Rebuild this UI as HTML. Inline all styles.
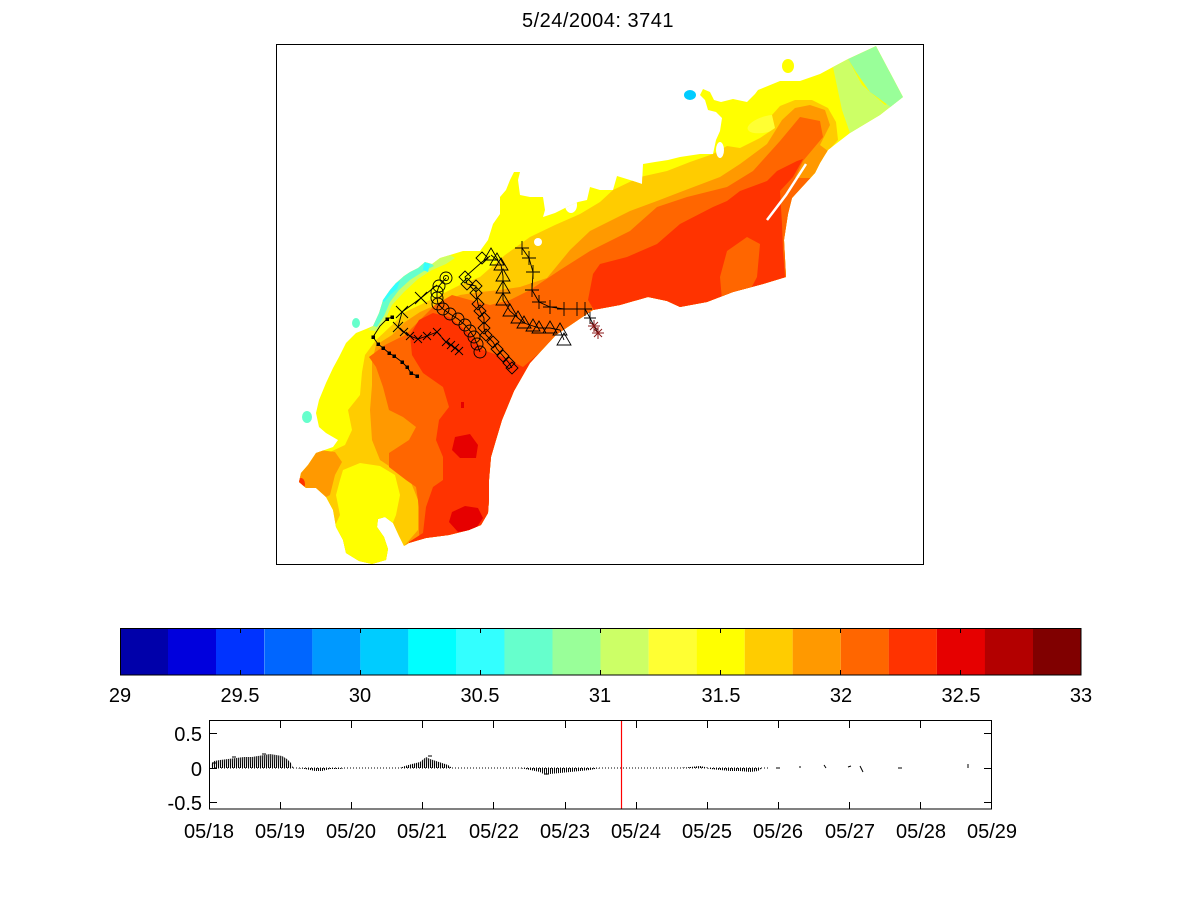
<!DOCTYPE html>
<html>
<head>
<meta charset="utf-8">
<style>
  html,body{margin:0;padding:0;background:#fff;}
  svg{display:block;}
  text{font-family:"Liberation Sans",Arial,sans-serif;fill:#000;}
</style>
</head>
<body>
<svg width="1201" height="900" viewBox="0 0 1201 900" xmlns="http://www.w3.org/2000/svg">
<rect x="0" y="0" width="1201" height="900" fill="#fff"/>
<defs>
  <clipPath id="dom">
    <polygon points="876,46 903,97 880,115 850,133 828,150 820,163 815,173 803,186 792,198 788,214 784,240 786,277 763,284 733,292 707,302 680,307 667,301 648,297 620,305 593,310 581,318 556,335 530,363 514,391 502,420 496,440 491,457 489,480 489,500 488,513 481,525 469,530 449,535 426,538 409,543 404,546 399,536 393,523 385,517 378,519 377,527 384,537 388,549 386,560 372,564 359,561 346,553 343,540 336,527 333,510 326,497 316,488 306,488 299,482 301,473 308,465 316,453 333,447 338,440 326,433 319,427 316,413 319,400 326,383 333,368 339,357 346,343 356,333 366,329 373,326 379,313 383,300 390,290 396,283 404,276 410,272 418,268 425,262 432,264 440,258 450,255 463,251 480,251 488,240 493,224 500,214 500,197 506,190 510,180 514,172 520,172 518,180 520,195 530,197 543,197 545,210 543,217 555,213 567,207 578,202 587,200 590,187 600,190 613,190 617,176 630,180 642,184 643,164 655,162 668,160 680,157 700,154 713,154 716,140 720,131 722,118 716,112 708,110 705,100 700,95 703,89 710,92 714,100 721,102 733,99 747,102 755,94 758,90 780,81 800,81 820,74 833,67 848,59"/>
  </clipPath>
  <pattern id="hatch" patternUnits="userSpaceOnUse" width="2" height="60">
    <line x1="0.2" y1="60" x2="1.6" y2="0" stroke="#000" stroke-width="1.1"/>
  </pattern>
</defs>

<!-- Title -->
<text x="598" y="27" font-size="20" text-anchor="middle" letter-spacing="0.5">5/24/2004: 3741</text>

<!-- Map -->
<g clip-path="url(#dom)">
  <rect x="270" y="40" width="660" height="530" fill="#ffff00"/>
  <!-- NE corner light greens -->
  <polygon points="833,67 848,59 862,85 885,105 903,97 905,140 850,133 842,110" fill="#ccff66"/>
  <polygon points="848,59 876,46 903,97 892,108 870,92 856,72" fill="#99ff99"/>
  <ellipse cx="767" cy="124" rx="20" ry="8" transform="rotate(-15 767 124)" fill="#ffff33"/>
  <!-- ffcc00 -->
  <polygon points="280,600 280,450 330,452 345,445 352,430 348,410 360,395 362,372 365,355 376,340 392,325 405,312 420,305 440,295 460,285 480,277 505,255 530,237 555,225 580,214 600,202 613,190 640,177 667,171 690,162 713,154 727,146 740,148 760,138 775,128 772,115 780,106 795,100 812,100 828,108 836,122 838,140 822,158 840,170 900,170 900,420 700,600" fill="#ffcc00"/>
  <!-- yellow overlays -->
  <polygon points="343,470 360,463 380,466 395,475 400,495 396,515 392,525 392,570 330,570 333,530 340,515 336,495 340,480" fill="#ffff00"/>
  <polygon points="808,160 822,163 812,180 800,192 795,182" fill="#ffff00"/>
  <!-- NW fringe -->
  <polygon points="368,330 373,326 379,313 383,300 390,290 396,283 404,276 410,272 418,268 425,262 432,264 440,258 450,255 455,258 446,264 432,270 418,279 404,292 392,305 386,318 376,331" fill="#ccff66"/>
  <polygon points="373,326 379,313 383,300 390,290 396,283 404,276 410,272 418,268 425,262 432,264 434,266 424,271 410,280 399,290 390,302 384,316 377,327" fill="#66ffcc"/>
  <polygon points="381,300 386,291 394,284 400,281 397,289 390,295 384,302" fill="#33ffff"/>
  <polygon points="424,262 430,264 428,272 423,270" fill="#33ffff"/>
  <!-- ff9900 -->
  <polygon points="296,470 305,455 320,450 335,452 342,462 335,475 330,495 320,500 300,495" fill="#ff9900"/>
  <polygon points="376,345 392,335 405,322 420,312 440,303 460,295 480,292 500,290 520,287 547,278 570,250 590,231 630,211 657,201 683,191 720,177 740,164 767,144 782,120 795,108 810,105 825,110 830,125 820,145 840,160 905,160 905,420 420,600 405,560 405,545 418,530 418,500 410,480 395,470 380,460 372,440 370,410 372,385 372,362" fill="#ff9900"/>
  <!-- ff6600 -->
  <polygon points="369,357 385,345 405,335 420,320 435,305 452,295 470,300 490,305 510,300 530,290 560,270 590,251 630,231 657,207 687,197 727,187 753,171 780,141 800,117 820,121 823,137 803,161 795,178 905,178 905,420 430,600 419,533 419,507 416,487 406,480 389,467 389,453 409,440 416,427 403,417 389,410 383,387 376,367" fill="#ff6600"/>
  <!-- ff3300 -->
  <polygon points="593,274 600,264 627,257 657,244 680,224 713,207 727,201 740,191 767,181 777,171 797,161 803,159 793,177 780,191 782,224 783,251 785,277 800,300 760,320 600,320 588,300" fill="#ff3300"/>
  <polygon points="720,277 727,251 747,237 760,244 757,277 745,300 722,300" fill="#ff6600"/>
  <polygon points="419,320 433,313 449,317 469,333 483,350 503,357 523,367 543,350 556,337 600,340 560,580 409,580 409,542 423,533 426,507 433,487 443,480 443,457 436,440 439,420 449,407 443,387 423,373 412,355 410,335" fill="#ff3300"/>
  <!-- e60000 -->
  <polygon points="455,437 470,434 478,445 476,458 460,458 452,450" fill="#e60000"/>
  <polygon points="452,512 465,506 478,508 483,518 475,530 458,532 449,522" fill="#e60000"/>
  <rect x="461" y="402" width="3" height="6" fill="#e60000"/>
  <ellipse cx="301" cy="484" rx="4" ry="6" fill="#ff3300"/>
  <!-- white holes & slit -->
  <ellipse cx="571" cy="205" rx="6" ry="8" fill="#fff"/>
  <ellipse cx="538" cy="242" rx="4" ry="4" fill="#fff"/>
  <ellipse cx="720" cy="150" rx="4" ry="8" fill="#fff"/>
  <polyline points="806,164 786,195 767,220" fill="none" stroke="#fff" stroke-width="2.5"/>
</g>
<!-- small detached blobs -->
<ellipse cx="690" cy="95" rx="6" ry="5" fill="#00ccff"/>
<ellipse cx="788" cy="66" rx="6" ry="7" fill="#ffff00"/>
<ellipse cx="356" cy="323" rx="4" ry="5" fill="#66ffcc"/>
<ellipse cx="307" cy="417" rx="5" ry="6" fill="#66ffcc"/>

<!-- Tracks -->
<g fill="none" stroke="#000" stroke-width="0.9">
  <!-- dots track -->
  <polyline points="392,317 387,319 380,326 373,337 378,344 383,348 389,353 394,356 402,362 407,367 411,373 417,376"/>
  <g fill="#000" stroke="none">
    <rect x="390.5" y="315.5" width="3.5" height="3.5"/><rect x="385.5" y="317.5" width="3.5" height="3.5"/>
    <rect x="371.5" y="335.5" width="3.5" height="3.5"/><rect x="376.5" y="342.5" width="3.5" height="3.5"/>
    <rect x="381.5" y="346.5" width="3.5" height="3.5"/><rect x="387.5" y="351.5" width="3.5" height="3.5"/>
    <rect x="392.5" y="354.5" width="3.5" height="3.5"/><rect x="400.5" y="360.5" width="3.5" height="3.5"/>
    <rect x="405.5" y="365.5" width="3.5" height="3.5"/><rect x="409.5" y="371.5" width="3.5" height="3.5"/>
    <rect x="415.5" y="374.5" width="3.5" height="3.5"/>
  </g>
  <!-- x track -->
  <polyline points="437,285 421,298 402,312 398,327 404,332 410,336 418,339 427,336 437,332 446,342 451,345 455,348 459,351"/>
  <path d="M415,292l12,12M415,304l12,-12 M396,306l12,12M396,318l12,-12 M393,322l10,10M393,332l10,-10 M400,328l8,8M400,336l8,-8 M406,332l8,8M406,340l8,-8 M414,335l8,8M414,343l8,-8 M423,332l8,8M423,340l8,-8 M433,328l8,8M433,336l8,-8 M442,338l8,8M442,346l8,-8 M447,341l8,8M447,349l8,-8 M451,344l8,8M451,352l8,-8 M455,347l8,8M455,355l8,-8"/>
  <!-- circles track -->
  <polyline points="446,278 439,286 437,292 437,298 438,304 443,309 450,314 458,319 465,325 470,331 474,337 477,344 480,352"/>
  <circle cx="446" cy="278" r="6"/><circle cx="446" cy="278" r="2.5"/>
  <circle cx="439" cy="286" r="6"/><circle cx="437" cy="292" r="6"/><circle cx="437" cy="298" r="6"/>
  <circle cx="438" cy="304" r="6"/><circle cx="443" cy="309" r="6"/><circle cx="450" cy="314" r="6"/>
  <circle cx="458" cy="319" r="6"/><circle cx="465" cy="325" r="6"/><circle cx="470" cy="331" r="6"/>
  <circle cx="474" cy="337" r="6"/><circle cx="477" cy="344" r="6"/><circle cx="480" cy="352" r="6"/>
  <!-- diamonds track -->
  <polyline points="490,256 482,262 465,277 467,284 476,286 476,293 478,304 480,311 484,318 484,328 486,335 493,342 497,349 503,356 509,363 512,368"/>
  <path d="M482,252l6,6l-6,6l-6,-6z M465,271l6,6l-6,6l-6,-6z M467,278l6,6l-6,6l-6,-6z M476,280l6,6l-6,6l-6,-6z M476,287l6,6l-6,6l-6,-6z M478,298l6,6l-6,6l-6,-6z M480,305l6,6l-6,6l-6,-6z M484,312l6,6l-6,6l-6,-6z M484,322l6,6l-6,6l-6,-6z M486,329l6,6l-6,6l-6,-6z M493,336l6,6l-6,6l-6,-6z M497,343l6,6l-6,6l-6,-6z M503,350l6,6l-6,6l-6,-6z M509,357l6,6l-6,6l-6,-6z M512,362l6,6l-6,6l-6,-6z"/>
  <!-- triangles track -->
  <polyline points="491,255 497,260 501,265 503,276 503,288 503,300 510,311 518,318 524,323 533,326 539,328 550,328 560,330 564,340"/>
  <path d="M491,248l7,12h-14z M497,253l7,12h-14z M501,258l7,12h-14z M503,269l7,12h-14z M503,281l7,12h-14z M503,293l7,12h-14z M510,304l7,12h-14z M518,311l7,12h-14z M524,316l7,12h-14z M533,319l7,12h-14z M539,321l7,12h-14z M550,321l7,12h-14z M560,323l7,12h-14z M564,333l7,12h-14z"/>
  <!-- plus track -->
  <polyline points="522,248 529,258 533,272 532,290 539,302 550,307 564,309 577,309 585,309 590,318 594,326 598,333"/>
  <path d="M515,248h14M522,241v14 M522,258h14M529,251v14 M526,272h14M533,265v14 M525,290h14M532,283v14 M532,302h14M539,295v14 M543,307h14M550,300v14 M557,309h14M564,302v14 M570,309h14M577,302v14 M578,309h14M585,302v14 M584,318h12M590,312v12"/>
</g>
<g fill="none" stroke="#8b1a1a" stroke-width="1">
  <path d="M588,326h12M594,320v12M590,322l8,8M590,330l8,-8 M592,333h12M598,327v12M594,329l8,8M594,337l8,-8"/>
</g>

<!-- Map box -->
<rect x="276.5" y="44.5" width="647" height="520" fill="none" stroke="#000" stroke-width="1"/>

<!-- Colorbar -->
<g>
  <rect x="120" y="628" width="48.1" height="47" fill="#0000aa"/>
  <rect x="168" y="628" width="48.1" height="47" fill="#0000dd"/>
  <rect x="216" y="628" width="48.1" height="47" fill="#0033ff"/>
  <rect x="264.3" y="628" width="48.1" height="47" fill="#0066ff"/>
  <rect x="312.3" y="628" width="48.1" height="47" fill="#0099ff"/>
  <rect x="360.3" y="628" width="48.1" height="47" fill="#00ccff"/>
  <rect x="408.3" y="628" width="48.1" height="47" fill="#00ffff"/>
  <rect x="456.4" y="628" width="48.1" height="47" fill="#33ffff"/>
  <rect x="504.4" y="628" width="48.1" height="47" fill="#66ffcc"/>
  <rect x="552.5" y="628" width="48.1" height="47" fill="#99ff99"/>
  <rect x="600.5" y="628" width="48.1" height="47" fill="#ccff66"/>
  <rect x="648.6" y="628" width="48.1" height="47" fill="#ffff33"/>
  <rect x="696.6" y="628" width="48.1" height="47" fill="#ffff00"/>
  <rect x="744.7" y="628" width="48.1" height="47" fill="#ffcc00"/>
  <rect x="792.7" y="628" width="48.1" height="47" fill="#ff9900"/>
  <rect x="840.8" y="628" width="48.1" height="47" fill="#ff6600"/>
  <rect x="888.8" y="628" width="48.1" height="47" fill="#ff3300"/>
  <rect x="936.9" y="628" width="48.1" height="47" fill="#e60000"/>
  <rect x="984.9" y="628" width="48.1" height="47" fill="#b30000"/>
  <rect x="1033" y="628" width="48" height="47" fill="#800000"/>
  <rect x="120.5" y="628.5" width="960.5" height="46.5" fill="none" stroke="#000" stroke-width="1"/>
  <path d="M240.5,628v5M240.5,675v-5 M360.5,628v5M360.5,675v-5 M480.5,628v5M480.5,675v-5 M600.5,628v5M600.5,675v-5 M720.5,628v5M720.5,675v-5 M840.5,628v5M840.5,675v-5 M960.5,628v5M960.5,675v-5" stroke="#000" stroke-width="1"/>
  <g font-size="20" text-anchor="middle">
    <text x="120" y="702">29</text>
    <text x="240" y="702">29.5</text>
    <text x="360" y="702">30</text>
    <text x="480" y="702">30.5</text>
    <text x="600" y="702">31</text>
    <text x="721" y="702">31.5</text>
    <text x="841" y="702">32</text>
    <text x="961" y="702">32.5</text>
    <text x="1081" y="702">33</text>
  </g>
</g>

<!-- Bottom time series -->
<g>
  <line x1="209" y1="768" x2="770" y2="768" stroke="#000" stroke-width="1" stroke-dasharray="1 2"/>
  <polygon points="211,768 211,764 214,761 220,760 228,759 236,758 244,757 252,757 258,756 264,755 270,754 276,755 282,756 287,759 291,763 293,768" fill="url(#hatch)"/>
  <polygon points="296,768 305,769 315,771 322,771 330,769 340,769 345,768" fill="url(#hatch)"/>
  <polygon points="400,768 405,766 412,764 420,762 426,757 430,759 436,761 442,763 448,765 452,768" fill="url(#hatch)"/>
  <polygon points="520,768 530,770 540,772 545,775 550,774 560,773 570,772 580,771 590,770 600,768" fill="url(#hatch)"/>
  <polygon points="680,768 690,767 700,766 705,767 710,769 720,770 730,771 740,771 750,772 758,771 762,768" fill="url(#hatch)"/>
  <path d="M776,768h4 M800,766v2 M824,765l2,3 M848,767l3,-1 M860,766l3,6 M898,768h4 M968,764v4 M212,763h4 M232,757h4 M262,754h4 M428,756h4 M545,774h4" stroke="#000" stroke-width="1" fill="none"/>
  <line x1="621.5" y1="720" x2="621.5" y2="809" stroke="#ff0000" stroke-width="1.2"/>
  <rect x="209.5" y="720.5" width="782" height="88.5" fill="none" stroke="#000" stroke-width="1"/>
  <path d="M280.5,721v7M280.5,809v-7 M351.5,721v7M351.5,809v-7 M422.5,721v7M422.5,809v-7 M493.5,721v7M493.5,809v-7 M565.5,721v7M565.5,809v-7 M636.5,721v7M636.5,809v-7 M707.5,721v7M707.5,809v-7 M778.5,721v7M778.5,809v-7 M849.5,721v7M849.5,809v-7 M920.5,721v7M920.5,809v-7 M210,733.5h7M991,733.5h-7 M210,768.5h7M991,768.5h-7 M210,802.5h7M991,802.5h-7" stroke="#000" stroke-width="1" fill="none"/>
  <g font-size="20" text-anchor="end">
    <text x="202" y="741">0.5</text>
    <text x="202" y="776">0</text>
    <text x="202" y="810">-0.5</text>
  </g>
  <g font-size="20" text-anchor="middle">
    <text x="209" y="838">05/18</text>
    <text x="280" y="838">05/19</text>
    <text x="351" y="838">05/20</text>
    <text x="422" y="838">05/21</text>
    <text x="494" y="838">05/22</text>
    <text x="565" y="838">05/23</text>
    <text x="636" y="838">05/24</text>
    <text x="707" y="838">05/25</text>
    <text x="778" y="838">05/26</text>
    <text x="850" y="838">05/27</text>
    <text x="921" y="838">05/28</text>
    <text x="992" y="838">05/29</text>
  </g>
</g>
</svg>
</body>
</html>
